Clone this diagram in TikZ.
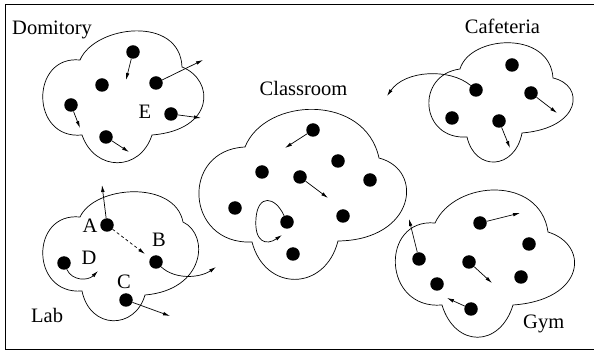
\documentclass[tikz,border=0pt]{standalone}
\usepackage{fontspec}
\setmainfont{Liberation Serif}
\usetikzlibrary{arrows.meta}
\tikzset{
  dot/.style={circle,fill=black,draw=none,minimum size=13.5pt,inner sep=0pt},
  blob/.style={draw=black,line width=0.7pt},
  mv/.style={draw=black,line width=0.7pt,-{Latex[length=7pt,width=3.6pt]}},
  lbl/.style={font=\fontsize{20.5}{24}\selectfont,inner sep=0pt,anchor=base},
  frame/.style={draw=black,line width=0.9pt}
}
\begin{document}
\begin{tikzpicture}[x=1pt,y=-1pt]
\useasboundingbox (0,0) rectangle (594,352);
\clip (0,0) rectangle (594,352);
\draw[frame] (5,4) rectangle (620,349);

% ---------------- Domitory ----------------
\draw[blob] (80,60) .. controls (95,25) and (180,15) .. (182,67)
  .. controls (215,80) and (215,130) .. (152,135)
  .. controls (140,172) and (95,172) .. (82,135)
  .. controls (30,140) and (30,55) .. (80,60) -- cycle;
\node[lbl,anchor=base west] (tdom) at (12,35) {Domitory};
\node[lbl] (tE) at (145,119) {E};
\node[dot] (d1) at (133,52) {};
\node[dot] (d2) at (102,85) {};
\node[dot] (d3) at (156,83) {};
\node[dot] (d4) at (71,105) {};
\node[dot] (d5) at (171,114) {};
\node[dot] (d6) at (106,137) {};
\coordinate (e1) at (126,80);
\coordinate (e3) at (203,60);
\coordinate (e4) at (80,128);
\coordinate (e5) at (201,118);
\coordinate (e6) at (129,152);
\draw[mv] (d1) -- (e1);
\draw[mv] (d3) -- (e3);
\draw[mv] (d4) -- (e4);
\draw[mv] (d5) -- (e5);
\draw[mv] (d6) -- (e6);

% ---------------- Classroom ----------------
\draw[blob] (245,147) .. controls (265,97) and (365,93) .. (379,158)
  .. controls (425,170) and (415,240) .. (338,241)
  .. controls (325,292) and (265,292) .. (252,242)
  .. controls (185,245) and (180,150) .. (245,147) -- cycle;
\node[lbl] (tcls) at (303.5,96) {Classroom};
\node[dot] (c1) at (313,130) {};
\node[dot] (c2) at (338,161) {};
\node[dot] (c3) at (262,172) {};
\node[dot] (c4) at (300,177) {};
\node[dot] (c5) at (370,180) {};
\node[dot] (c6) at (235,208) {};
\node[dot] (c7) at (343,216) {};
\node[dot] (c8) at (287,222) {};
\node[dot] (c9) at (293,254) {};
\coordinate (f1) at (285,148);
\coordinate (f4) at (328,198);
\coordinate (f8) at (282,235);
\draw[mv] (c1) -- (f1);
\draw[mv] (c4) -- (f4);
\draw[mv] (c8) .. controls (275,196) and (258,194) .. (256,218)
  .. controls (254,242) and (266,246) .. (f8);

% ---------------- Cafeteria ----------------
\draw[blob] (460,69) .. controls (470,35) and (550,30) .. (553,78)
  .. controls (585,85) and (582,128) .. (522,133)
  .. controls (515,170) and (475,172) .. (467,137)
  .. controls (420,140) and (415,75) .. (460,69) -- cycle;
\node[lbl] (tcaf) at (502.5,34) {Cafeteria};
\node[dot] (k1) at (512,65) {};
\node[dot] (k2) at (476,90) {};
\node[dot] (k3) at (531,93) {};
\node[dot] (k4) at (452,118) {};
\node[dot] (k5) at (499,121) {};
\coordinate (g2) at (387,96);
\coordinate (g3) at (557,113);
\coordinate (g5) at (510,148);
\draw[mv] (k2) .. controls (450,68) and (405,70) .. (g2);
\draw[mv] (k3) -- (g3);
\draw[mv] (k5) -- (g5);

% ---------------- Lab ----------------
\draw[blob] (80,217) .. controls (95,185) and (175,180) .. (183,222)
  .. controls (210,235) and (205,290) .. (145,295)
  .. controls (135,330) and (90,330) .. (82,291)
  .. controls (30,295) and (30,212) .. (80,217) -- cycle;
\node[lbl,anchor=base west] (tlab) at (31,323) {Lab};
\node[lbl] (tA) at (90,233) {A};
\node[lbl] (tB) at (159,247) {B};
\node[lbl] (tD) at (89,265) {D};
\node[lbl] (tC) at (124,289) {C};
\node[dot] (la) at (107,225) {};
\node[dot] (lb) at (156,262) {};
\node[dot] (ld) at (64,263) {};
\node[dot] (lc) at (126,300) {};
\coordinate (ha) at (102,185);
\coordinate (hab) at (145,254);
\coordinate (hb) at (216,267);
\coordinate (hd) at (98,271);
\coordinate (hc) at (170,316);
\draw[mv] (la) -- (ha);
\draw[mv,dash pattern=on 3pt off 2.5pt] (la) -- (hab);
\draw[mv] (lb) .. controls (175,280) and (200,278) .. (hb);
\draw[mv] (ld) .. controls (72,281) and (88,281) .. (hd);
\draw[mv] (lc) -- (hc);

% ---------------- Gym ----------------
\draw[blob] (435,223) .. controls (455,180) and (540,175) .. (548,232)
  .. controls (590,245) and (585,300) .. (513,305)
  .. controls (500,348) and (455,348) .. (442,305)
  .. controls (382,310) and (380,218) .. (435,223) -- cycle;
\node[lbl,anchor=base west] (tgym) at (523,329) {Gym};
\node[dot] (y1) at (480,223) {};
\node[dot] (y2) at (529,244) {};
\node[dot] (y3) at (419,259) {};
\node[dot] (y4) at (469,262) {};
\node[dot] (y5) at (521,277) {};
\node[dot] (y6) at (437,284) {};
\node[dot] (y7) at (471,309) {};
\coordinate (z1) at (520,213);
\coordinate (z3) at (409,219);
\coordinate (z4) at (492,283);
\coordinate (z7) at (447,298);
\draw[mv] (y1) -- (z1);
\draw[mv] (y3) -- (z3);
\draw[mv] (y4) -- (z4);
\draw[mv] (y7) -- (z7);
\end{tikzpicture}
\end{document}
